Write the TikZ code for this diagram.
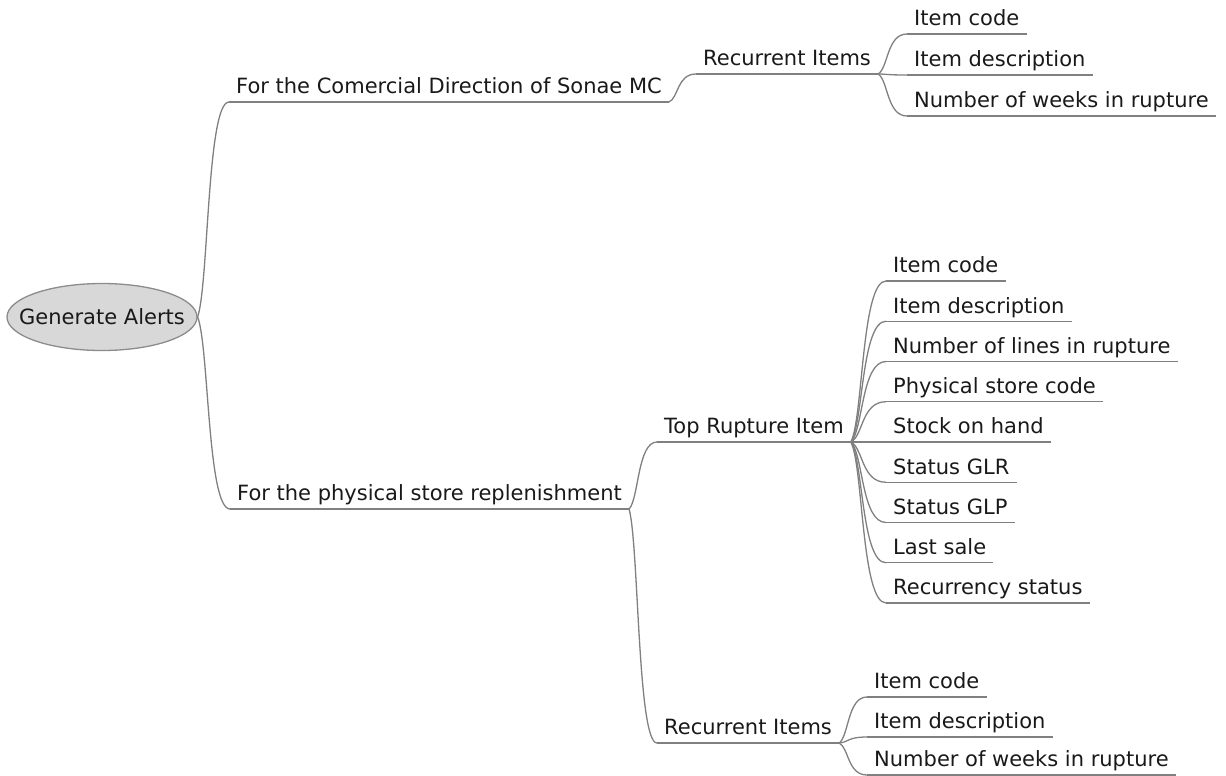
\documentclass[tikz,border=0pt]{standalone}
\usepackage{fontspec}
\setmainfont{DejaVu Sans}
\usetikzlibrary{calc,shapes.geometric}
\definecolor{linkgray}{RGB}{128,128,128}
\definecolor{rootfill}{RGB}{216,216,216}
\definecolor{rootline}{RGB}{140,140,140}
\definecolor{ink}{RGB}{25,25,25}

% curved mind-map branch: leaves the parent steeply, lands flat on the child's underline
\newcommand\mmlink[2]{%
  \draw[link] let \p1=(#1), \p2=(#2) in
    (\p1) .. controls ({\x1+0.35*(\x2-\x1)},{\y1+0.15*(\y2-\y1)})
              and ({\x1+0.30*(\x2-\x1)},{\y2}) .. (\p2);}

\begin{document}
\begin{tikzpicture}[x=1pt,y=-1pt,
  font=\fontsize{21}{25}\selectfont,
  link/.style={draw=linkgray, line width=1.3pt},
  topic/.style={anchor=south west, inner xsep=7pt, inner ysep=0pt,
                text depth=8pt, text=ink},
  central/.style={ellipse, draw=rootline, line width=1.3pt, fill=rootfill,
                  minimum width=190pt, minimum height=67pt, inner sep=0pt, text=ink}]
\useasboundingbox (0,0) rectangle (1226,776);

% central topic (label boxed to zero width so the ellipse keeps its own size)
\node[central] (root) at (102,317) {\makebox[0pt]{Generate Alerts}};

% first level
\node[topic] (a1) at (229,102) {For the Comercial Direction of Sonae MC};
\node[topic] (a2) at (230,509) {For the physical store replenishment};

% commercial direction branch
\node[topic] (b1) at (696,74) {Recurrent Items};
\node[topic] (c11) at (907,34) {Item code};
\node[topic] (c12) at (907,75) {Item description};
\node[topic] (c13) at (907,116) {Number of weeks in rupture};

% store replenishment branch
\node[topic] (b2) at (657,442) {Top Rupture Item};
\foreach \lbl [count=\i] in {Item code, Item description, Number of lines in rupture,
    Physical store code, Stock on hand, Status GLR, Status GLP, Last sale,
    Recurrency status}
  {\node[topic] (c2\i) at (886,{281+40.25*(\i-1)}) {\lbl};}

\node[topic] (b3) at (657,743) {Recurrent Items};
\node[topic] (c31) at (867,697) {Item code};
\node[topic] (c32) at (867,737) {Item description};
\node[topic] (c33) at (867,775) {Number of weeks in rupture};

% underlines
\foreach \nm in {a1,a2,b1,b2,b3,c11,c12,c13,c21,c22,c23,c24,c25,c26,c27,c28,c29,c31,c32,c33}
  {\draw[link] (\nm.south west) -- (\nm.south east);}

% branches
\mmlink{root.east}{a1.south west}
\mmlink{root.east}{a2.south west}
\mmlink{a1.south east}{b1.south west}
\foreach \nm in {c11,c12,c13} {\mmlink{b1.south east}{\nm.south west}}
\mmlink{a2.south east}{b2.south west}
\mmlink{a2.south east}{b3.south west}
\foreach \nm in {c21,c22,c23,c24,c25,c26,c27,c28,c29} {\mmlink{b2.south east}{\nm.south west}}
\foreach \nm in {c31,c32,c33} {\mmlink{b3.south east}{\nm.south west}}
\end{tikzpicture}
\end{document}
